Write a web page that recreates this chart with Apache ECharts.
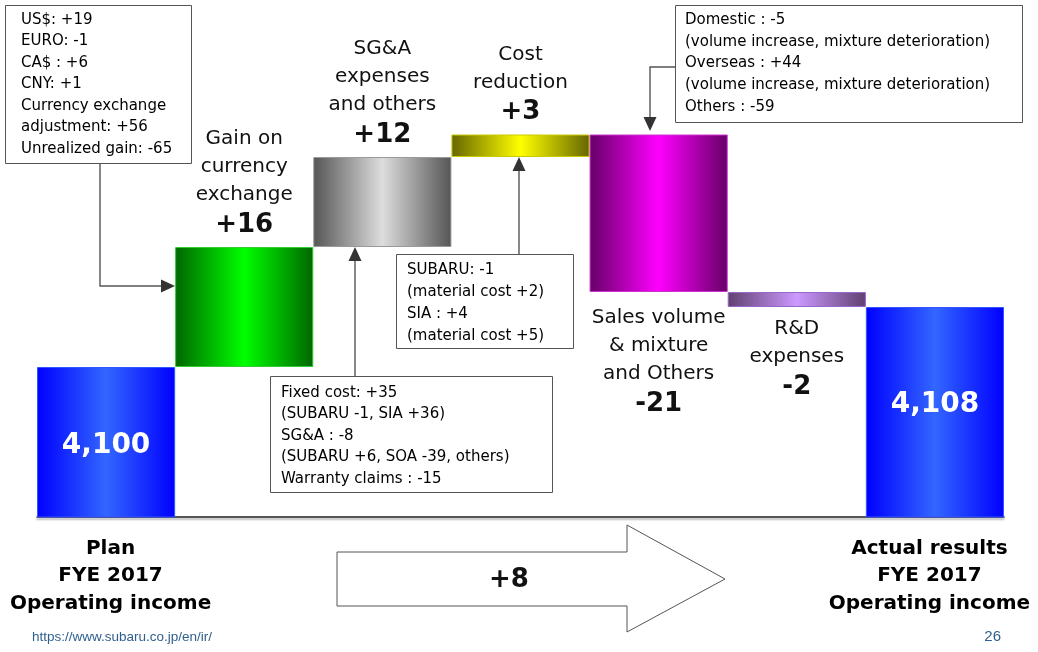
<!DOCTYPE html>
<html>
<head>
	<meta charset="UTF-8">
	<title>Operating income FYE 2017</title>
	<script src="https://cdn.jsdelivr.net/npm/echarts@6/dist/echarts.min.js"></script>
	<style>
		html, body { margin: 0; padding: 0; background: #fff; }
		#chart { width: 1038px; height: 652px; }
	</style>
</head>
<body>
	<div id="chart"></div>
	<script>
		// data
		var categories = ['Plan', 'Gain on currency exchange', 'SG&A expenses and others', 'Cost reduction',
			'Sales volume & mixture and Others', 'R&D expenses', 'Actual results'];
		var stepTitles = ['', 'Gain on\ncurrency\nexchange', 'SG&A\nexpenses\nand others', 'Cost\nreduction',
			'Sales volume\n& mixture\nand Others', 'R&D\nexpenses', ''];
		var changes = [4100, 16, 12, 3, -21, -2, 4108];
		var isTotal = [true, false, false, false, false, false, true];
		var totalLabels = ['Plan\nFYE 2017\nOperating income', 'Actual results\nFYE 2017\nOperating income'];
		var overall = '+8';

		// colours (edge, centre, border)
		var palette = [
			['#0000ff', '#3366ff', '#3355ff'],
			['#006600', '#00ff00', '#33cc33'],
			['#555555', '#dddddd', '#999999'],
			['#666600', '#ffff00', '#cccc00'],
			['#660066', '#ff00ff', '#cc33cc'],
			['#604070', '#cc99ff', '#9966cc'],
			['#0000ff', '#3366ff', '#3355ff']
		];
		// gap between a bar and its caption
		var labelGap = [0, 6, 6, 6, 12, 8, 0];

		var FONT = 'DejaVu Sans';

		// waterfall: bottoms + heights
		var bottoms = [], heights = [], running = 0;
		for (var i = 0; i < changes.length; i++) {
			if (isTotal[i]) {
				bottoms.push(0);
				heights.push(changes[i]);
				running = changes[i];
			} else {
				var next = running + changes[i];
				bottoms.push(Math.min(running, next));
				heights.push(Math.abs(changes[i]));
				running = next;
			}
		}

		function fmtChange(i) {
			if (isTotal[i]) return changes[i].toLocaleString('en-US');
			return (changes[i] > 0 ? '+' : '') + changes[i];
		}

		var barData = heights.map(function (h, i) {
			var c = palette[i];
			var item = {
				value: h,
				itemStyle: {
					color: {
						type: 'linear', x: 0, y: 0, x2: 1, y2: 0,
						colorStops: [{ offset: 0, color: c[0] }, { offset: 0.5, color: c[1] }, { offset: 1, color: c[0] }]
					},
					borderColor: c[2],
					borderWidth: 1
				}
			};
			if (isTotal[i]) {
				item.label = { position: 'inside', color: '#fff', fontSize: 28, fontWeight: 'bold', fontFamily: FONT,
					offset: [0, i === changes.length - 1 ? -8 : 3] };
			} else {
				item.label = { position: changes[i] > 0 ? 'top' : 'bottom', distance: labelGap[i] };
			}
			return item;
		});

		var chart = echarts.init(document.getElementById('chart'), null, { renderer: 'canvas' });

		function box(x, y, w, h, tx, ty, lh, text) {
			return {
				type: 'group',
				children: [
					{ type: 'rect', shape: { x: x + 0.5, y: y + 0.5, width: w, height: h },
						style: { fill: '#fff', stroke: '#555', lineWidth: 1 } },
					{ type: 'text', x: tx, y: ty,
						style: { text: text, font: '15px "' + FONT + '"', fill: '#000', lineHeight: lh,
							verticalAlign: 'top', align: 'left' } }
				]
			};
		}
		function arrowHead(tx, ty, dir) {
			var L = 14, W = 6.5, pts;
			if (dir === 'right') pts = [[tx, ty], [tx - L, ty - W], [tx - L, ty + W]];
			else if (dir === 'up') pts = [[tx, ty], [tx - W, ty + L], [tx + W, ty + L]];
			else pts = [[tx, ty], [tx - W, ty - L], [tx + W, ty - L]];
			return { type: 'polygon', shape: { points: pts }, style: { fill: '#333' } };
		}
		function line(points) {
			return { type: 'polyline', shape: { points: points }, style: { stroke: '#555', lineWidth: 1.4, fill: null } };
		}

		var option = {
			animation: false,
			grid: { left: 37, right: 34, top: 67, bottom: 135, containLabel: false, outerBoundsMode: 'none' },
			xAxis: {
				type: 'category',
				data: categories,
				axisTick: { show: false },
				axisLine: { lineStyle: { color: '#222', width: 1.5, shadowColor: 'rgba(0,0,0,0.35)', shadowOffsetY: 2, shadowBlur: 2 } },
				axisLabel: {
					interval: 0,
					margin: 18,
					hideOverlap: false,
					formatter: function (v, idx) {
						if (idx === 0) return totalLabels[0].split('\n').map(function (s) { return '{a|' + s + '}'; }).join('\n');
						if (idx === categories.length - 1) return totalLabels[1].split('\n').map(function (s) { return '{b|' + s + '}'; }).join('\n');
						return '';
					},
					rich: {
						a: { fontSize: 20, fontWeight: 'bold', fontFamily: FONT, color: '#000', lineHeight: 27.5, padding: [0, 0, 0, 9] },
						b: { fontSize: 20, fontWeight: 'bold', fontFamily: FONT, color: '#000', lineHeight: 27.5, padding: [0, 11, 0, 0] }
					}
				}
			},
			yAxis: {
				type: 'value', min: 4080, max: 4140, show: false, splitLine: { show: false }
			},
			series: [
				{
					type: 'bar', stack: 'w', data: bottoms, barCategoryGap: 0,
					itemStyle: { color: 'transparent' }, silent: true
				},
				{
					type: 'bar', stack: 'w', data: barData, barCategoryGap: 0,
					label: {
						show: true,
						fontFamily: FONT,
						formatter: function (p) {
							var i = p.dataIndex;
							if (isTotal[i]) return fmtChange(i);
							return stepTitles[i].split('\n').map(function (s) { return '{t|' + s + '}'; }).join('\n') +
								'\n{v|' + fmtChange(i) + '}';
						},
						rich: {
							t: { fontSize: 20, fontFamily: FONT, color: '#111', lineHeight: 28 },
							v: { fontSize: 26, fontWeight: 'bold', fontFamily: FONT, color: '#111', lineHeight: 32 }
						}
					}
				}
			],
			graphic: [
				box(5, 5, 186, 158, 21, 9, 21.5,
					'US$: +19\nEURO: -1\nCA$ : +6\nCNY: +1\nCurrency exchange\nadjustment: +56\nUnrealized gain: -65'),
				line([[100, 163], [100, 286], [162, 286]]),
				arrowHead(175, 286, 'right'),

				box(396, 254, 177, 94, 407, 259, 22,
					'SUBARU: -1\n(material cost +2)\nSIA : +4\n(material cost +5)'),
				line([[519, 254], [519, 170]]),
				arrowHead(519, 157, 'up'),

				box(270, 376, 282, 116, 281, 382, 21.5,
					'Fixed cost: +35\n(SUBARU -1, SIA +36)\nSG&A : -8\n(SUBARU +6, SOA -39, others)\nWarranty claims : -15'),
				line([[355, 376], [355, 260]]),
				arrowHead(355, 247, 'up'),

				box(675, 5, 347, 117, 685, 9, 21.8,
					'Domestic : -5\n(volume increase, mixture deterioration)\nOverseas : +44\n(volume increase, mixture deterioration)\nOthers : -59'),
				line([[675, 67], [650, 67], [650, 118]]),
				arrowHead(650, 131, 'down'),

				{
					type: 'polygon',
					shape: { points: [[337, 552], [627, 552], [627, 525], [725, 579], [627, 632], [627, 606], [337, 606]] },
					style: { fill: '#fff', stroke: '#555', lineWidth: 1 }
				},
				{ type: 'text', x: 509, y: 580,
					style: { text: overall, font: 'bold 26px "' + FONT + '"', fill: '#111', align: 'center', verticalAlign: 'middle' } },

				{ type: 'text', x: 32, y: 637,
					style: { text: 'https://www.subaru.co.jp/en/ir/', font: '13.5px "Liberation Sans"', fill: '#2f5f8f', verticalAlign: 'middle' } },
				{ type: 'text', x: 1001, y: 637,
					style: { text: '26', font: '15px "Liberation Sans"', fill: '#2f5f8f', align: 'right', verticalAlign: 'middle' } }
			]
		};
		chart.setOption(option);
	</script>
</body>
</html>
